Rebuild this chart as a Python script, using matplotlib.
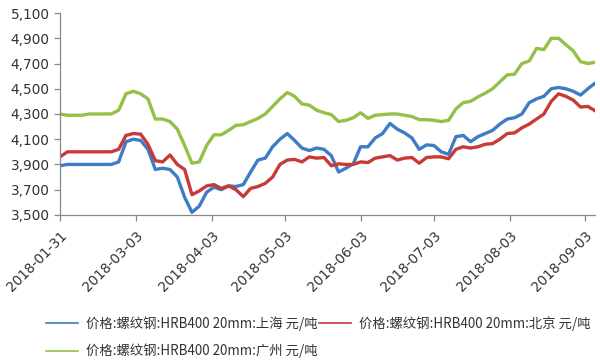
import numpy as np
import pandas as pd
import matplotlib
matplotlib.use("Agg")
import matplotlib.pyplot as plt
from matplotlib.lines import Line2D

plt.rcParams['font.family'] = ['Noto Sans CJK SC', 'DejaVu Sans']

# sampled every 3 days from 2018-01-31
dates = pd.date_range('2018-01-31', periods=74, freq='3D')

shanghai = [3890, 3900, 3900, 3900, 3900, 3900, 3900, 3900, 3920, 4080,
            4100, 4090, 4020, 3860, 3870, 3860, 3800, 3640, 3520, 3570,
            3680, 3720, 3700, 3730, 3725, 3740, 3840, 3935, 3950, 4040,
            4100, 4145, 4090, 4030, 4010, 4030, 4020, 3970, 3840, 3870,
            3905, 4040, 4040, 4110, 4145, 4225, 4180, 4150, 4110, 4020,
            4055, 4050, 4000, 3980, 4120, 4130, 4080, 4120, 4145, 4170,
            4220, 4260, 4270, 4300, 4390, 4420, 4440, 4500, 4510, 4500,
            4480, 4450, 4500, 4545]

beijing = [3960, 4000, 4000, 4000, 4000, 4000, 4000, 4000, 4020, 4130,
           4145, 4140, 4060, 3930, 3920, 3975, 3900, 3860, 3660, 3690,
           3730, 3740, 3710, 3730, 3700, 3645, 3710, 3725, 3750, 3800,
           3900, 3935, 3940, 3920, 3960, 3950, 3955, 3890, 3905, 3900,
           3900, 3920, 3915, 3950, 3960, 3970, 3935, 3950, 3955, 3910,
           3955, 3960, 3960, 3945, 4020, 4040, 4030, 4040, 4060, 4065,
           4100, 4145, 4150, 4190, 4220, 4260, 4300, 4400, 4460, 4440,
           4410, 4355, 4360, 4325]

guangzhou = [4300, 4290, 4290, 4290, 4300, 4300, 4300, 4300, 4330, 4460,
             4480, 4460, 4420, 4260, 4260, 4240, 4180, 4050, 3910, 3920,
             4050, 4135, 4135, 4170, 4210, 4215, 4240, 4265, 4300, 4360,
             4420, 4470, 4440, 4380, 4370, 4330, 4310, 4295, 4240, 4250,
             4270, 4310, 4265, 4290, 4295, 4300, 4300, 4290, 4280, 4255,
             4255, 4250, 4240, 4250, 4340, 4390, 4400, 4435, 4465, 4500,
             4555, 4610, 4615, 4700, 4720, 4820, 4810, 4900, 4900, 4850,
             4800, 4715, 4700, 4710]

labels = ['价格:螺纹钢:HRB400 20mm:上海 元/吨',
          '价格:螺纹钢:HRB400 20mm:北京 元/吨',
          '价格:螺纹钢:HRB400 20mm:广州 元/吨']
colors = ['#3f7cc6', '#c83a36', '#94c047']

tick_dates = pd.to_datetime(['2018-01-31', '2018-03-03', '2018-04-03', '2018-05-03',
                             '2018-06-03', '2018-07-03', '2018-08-03', '2018-09-03'])

fig = plt.figure(figsize=(6.0, 3.63), dpi=100)
ax = fig.add_axes([0.1, 0.408, 0.892, 0.556])

for vals, c in zip([shanghai, beijing, guangzhou], colors):
    ax.plot(dates, vals, color=c, lw=2.4, solid_joinstyle='round')

ax.set_ylim(3500, 5100)
ax.set_yticks(np.arange(3500, 5101, 200))
ax.yaxis.set_major_formatter(matplotlib.ticker.StrMethodFormatter('{x:,.0f}'))
ax.set_xlim(pd.Timestamp('2018-01-31'), pd.Timestamp('2018-09-07'))
ax.set_xticks(tick_dates)
ax.set_xticklabels([d.strftime('%Y-%m-%d') for d in tick_dates],
                   rotation=45, ha='right', rotation_mode='anchor')

for s in ['top', 'right']:
    ax.spines[s].set_visible(False)
for s in ['left', 'bottom']:
    ax.spines[s].set_color('#888888')
    ax.spines[s].set_linewidth(0.9)
ax.tick_params(axis='both', colors='#888888', length=4, width=0.9,
               labelcolor='#333333', labelsize=9.8)
ax.tick_params(axis='x', pad=6)
for t in ax.get_yticklabels() + ax.get_xticklabels():
    t.set_family('DejaVu Sans')

handles = [Line2D([], [], color=colors[0], lw=1.2),
           Line2D([], [], color=colors[2], lw=1.2),
           Line2D([], [], color=colors[1], lw=1.2)]
fig.legend(handles, [labels[0], labels[2], labels[1]], ncol=2,
           loc='upper left', bbox_to_anchor=(0.068, 0.143),
           frameon=False, fontsize=9.6, handlelength=2.4, handletextpad=0.6,
           columnspacing=0.1, labelspacing=0.95, borderaxespad=0,
           labelcolor='#333333')

fig.savefig('out.png', dpi=100)
